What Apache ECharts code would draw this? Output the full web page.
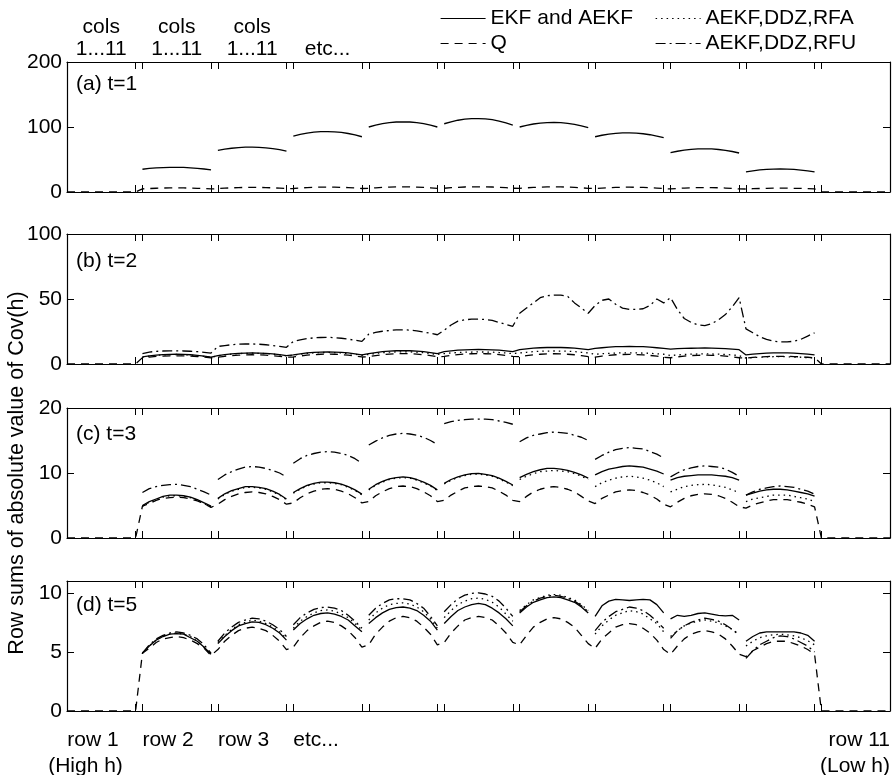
<!DOCTYPE html>
<html><head><meta charset="utf-8">
<script src="https://cdn.jsdelivr.net/npm/echarts@6/dist/echarts.min.js"></script>
<style>html,body{margin:0;padding:0;background:#fff}#c{width:896px;height:775px}</style>
</head><body><div id="c"></div>
<script>
// ---- axis ticks / labels ----
const xTicks = [11,12,22,23,33,34,44,45,55,56,66,67,77,78,88,89,99,100,110,111];
const topLabelPos = [6,17,28,39];
const topLabels = ['cols\n1...11','cols\n1...11','cols\n1...11','etc...'];
const bottomLabelPos = [3.7,12,23,34,121];
const bottomLabels = ['{s|row 1}\n(High h)','row 2','row 3','etc...','row 11\n(Low h)'];
const panelTitles = ['(a) t=1','(b) t=2','(c) t=3','(d) t=5'];
const yMax = [200,100,20,11];
const yTicks = [[0,100,200],[0,50,100],[0,10,20],[0,5,10]];
const yTitle = 'Row sums of absolute value of Cov(h)';
const names = ['EKF and AEKF','Q','AEKF,DDZ,RFA','AEKF,DDZ,RFU'];

// ---- data: each inner array = one row of the grid (cols 1..11) ----
// Q : rows 1..11
const qRows = [
 [0,0,0,0,0,0,0,0,0,0,0],
 [4.9,5.3,5.8,6.1,6.2,6.3,6.2,6.0,5.7,5.3,4.7],
 [5.2,5.9,6.4,6.8,7.0,7.1,7.0,6.8,6.4,5.9,5.2],
 [5.4,6.2,6.8,7.2,7.5,7.6,7.5,7.2,6.8,6.2,5.4],
 [5.6,6.5,7.1,7.6,7.9,8.0,7.9,7.6,7.1,6.5,5.6],
 [5.8,6.6,7.2,7.7,7.9,8.0,7.9,7.7,7.2,6.6,5.8],
 [5.6,6.4,7.1,7.5,7.8,7.9,7.8,7.5,7.1,6.4,5.7],
 [5.3,6.1,6.6,7.1,7.3,7.4,7.3,7.0,6.6,6.0,5.2],
 [4.8,5.5,6.1,6.5,6.7,6.8,6.7,6.5,6.1,5.5,4.8],
 [4.6,5.1,5.4,5.7,5.9,5.9,5.9,5.7,5.5,5.2,4.8],
 [0,0,0,0,0,0,0,0,0,0,0]
];
// other filters : rows 2..10
const ekfA = [
 [35,36.2,37.0,37.6,38.0,38.0,37.8,37.2,36.4,35.4,34],
 [64,65.9,67.3,68.3,68.9,69.0,68.7,67.9,66.7,65.1,63],
 [86,88.6,90.6,92.0,92.8,93,92.6,91.6,90.0,87.8,85],
 [100,102.9,105.1,106.7,107.7,108,107.7,106.7,105.1,102.9,100],
 [105,108.0,110.4,112.0,112.8,113,112.4,111.2,109.2,106.4,103],
 [100,102.6,104.6,106.0,106.8,107,106.6,105.6,104.0,101.8,99],
 [85,87.3,89.0,90.2,90.9,91,90.6,89.6,88.1,86.1,83.5],
 [60.5,62.7,64.4,65.6,66.3,66.5,66.2,65.4,64.1,62.3,60],
 [31,32.6,33.9,34.8,35.3,35.4,35.2,34.7,33.8,32.5,30.8]
];
const ekfB = [
 [5.5,6.2,6.8,7.2,7.4,7.5,7.4,7.1,6.6,6.0,5.3],
 [6.5,7.2,7.8,8.2,8.4,8.5,8.4,8.2,7.8,7.2,6.5],
 [7.0,7.8,8.5,8.9,9.2,9.3,9.2,8.9,8.5,7.8,7.0],
 [8.0,8.8,9.5,9.9,10.2,10.3,10.2,9.9,9.5,8.8,8.0],
 [9.5,10.1,10.6,10.9,11.1,11.2,11.1,10.9,10.6,10.1,9.5],
 [11.0,11.7,12.2,12.5,12.7,12.8,12.7,12.5,12.2,11.7,11.0],
 [12.0,12.5,13.0,13.3,13.4,13.5,13.4,13.3,13.0,12.5,12.0],
 [11.5,11.8,12.0,12.1,12.2,12.3,12.2,12.0,11.8,11.4,11.0],
 [7.0,7.6,8.0,8.3,8.5,8.6,8.5,8.3,8.0,7.6,7.0]
];
const rfaB = [
 [5.3,6.0,6.6,7.0,7.2,7.3,7.2,6.9,6.4,5.8,5.1],
 [6.3,7.0,7.6,8.0,8.2,8.3,8.2,8.0,7.6,7.0,6.3],
 [6.7,7.5,8.1,8.5,8.8,8.9,8.8,8.5,8.1,7.5,6.7],
 [7.3,8.1,8.7,9.1,9.3,9.4,9.3,9.1,8.7,8.1,7.3],
 [8.0,8.5,8.8,9.1,9.2,9.3,9.2,9.1,8.8,8.5,8.0],
 [8.5,9.0,9.5,9.8,9.9,10.0,9.9,9.8,9.5,9.0,8.5],
 [7.5,7.9,8.2,8.4,8.6,8.6,8.6,8.4,8.2,7.9,7.5],
 [6.5,7.0,7.3,7.6,7.7,7.8,7.7,7.6,7.3,7.0,6.5],
 [4.5,4.9,5.2,5.4,5.6,5.6,5.6,5.4,5.2,4.9,4.5]
];
const rfuB = [
 [8.0,9.2,9.7,10.0,10.1,10.1,10.0,9.8,9.5,9.0,8.4],
 [13.5,14.2,14.8,15.2,15.4,15.4,15.2,14.8,14.2,13.6,12.8],
 [17.4,18.6,19.5,20.1,20.4,20.5,20.3,19.8,19.1,18.3,17.4],
 [23.0,24.3,25.2,25.8,26.2,26.3,26.1,25.5,24.6,23.6,22.5],
 [26.0,30.0,33.0,34.0,34.5,34.5,34.3,33.5,32.0,30.5,29.0],
 [39,43,47,51,52.5,53,53,52,47,43,39],
 [45,49,50,46,43,42,42,42.5,45,50,47],
 [51,42,35,32,30,29.5,31,34,38,44,51],
 [27,24,21,19,17.5,17,17,17.5,19,21.5,24]
];
const ekfC = [
 [5.0,5.6,6.0,6.4,6.6,6.6,6.5,6.3,5.9,5.4,4.9],
 [6.1,6.8,7.3,7.6,7.9,7.9,7.8,7.6,7.2,6.7,6.0],
 [7.0,7.6,8.1,8.4,8.6,8.6,8.5,8.3,7.9,7.4,6.75],
 [7.5,8.2,8.7,9.1,9.3,9.4,9.3,9.0,8.6,8.1,7.4],
 [8.4,9.0,9.4,9.7,9.9,9.95,9.8,9.6,9.2,8.7,8.15],
 [9.3,9.8,10.2,10.5,10.7,10.7,10.6,10.4,10.1,9.7,9.2],
 [9.7,10.2,10.6,10.8,11.0,11.1,11.0,10.9,10.6,10.3,9.85],
 [8.9,9.3,9.5,9.6,9.7,9.7,9.7,9.6,9.5,9.3,8.9],
 [6.6,6.9,7.2,7.4,7.5,7.5,7.4,7.2,7.0,6.8,6.45]
];
const rfaC = [
 [4.9,5.5,5.9,6.3,6.5,6.5,6.4,6.2,5.8,5.3,4.8],
 [6.0,6.7,7.2,7.5,7.8,7.8,7.7,7.5,7.1,6.6,5.9],
 [6.9,7.5,8.0,8.3,8.5,8.5,8.4,8.2,7.8,7.3,6.65],
 [7.4,8.1,8.6,9.0,9.2,9.3,9.2,8.9,8.5,8.0,7.3],
 [8.3,8.9,9.3,9.6,9.8,9.85,9.7,9.5,9.1,8.6,8.05],
 [9.0,9.5,9.9,10.2,10.3,10.4,10.3,10.2,9.9,9.5,9.0],
 [7.9,8.5,8.9,9.2,9.4,9.5,9.4,9.2,8.9,8.5,7.9],
 [7.1,7.5,7.9,8.1,8.2,8.25,8.2,8.0,7.8,7.4,7.0],
 [5.6,6.0,6.2,6.4,6.6,6.6,6.6,6.4,6.2,6.0,5.6]
];
const rfuC = [
 [7.0,7.6,7.9,8.1,8.2,8.25,8.1,7.9,7.5,7.1,6.6],
 [9.0,9.7,10.2,10.6,10.9,11.0,10.9,10.7,10.4,10.0,9.4],
 [11.5,12.2,12.7,13.0,13.2,13.3,13.2,13.0,12.7,12.2,11.5],
 [14.3,14.9,15.4,15.8,16.0,16.1,16.0,15.8,15.5,15.0,14.4],
 [17.6,17.9,18.1,18.2,18.3,18.3,18.3,18.2,18.0,17.8,17.5],
 [14.8,15.4,15.8,16.0,16.2,16.3,16.2,16.1,15.8,15.5,15.0],
 [12.1,12.7,13.2,13.6,13.8,13.9,13.8,13.7,13.3,12.9,12.3],
 [9.4,10.0,10.5,10.8,11.0,11.1,11.0,10.9,10.6,10.1,9.5],
 [6.6,7.1,7.5,7.7,7.9,8.0,7.9,7.8,7.5,7.2,6.75]
];
const ekfD = [
 [4.9,5.5,6.0,6.3,6.5,6.55,6.5,6.2,5.9,5.4,4.8],
 [5.7,6.3,6.8,7.2,7.4,7.55,7.5,7.3,7.0,6.6,6.0],
 [6.85,7.4,7.8,8.1,8.25,8.3,8.2,8.0,7.7,7.2,6.7],
 [7.4,7.9,8.3,8.6,8.75,8.8,8.7,8.5,8.1,7.6,6.85],
 [7.4,8.0,8.5,8.8,9.0,9.1,9.0,8.7,8.3,7.8,7.2],
 [8.3,8.8,9.2,9.4,9.6,9.65,9.6,9.4,9.2,8.8,8.3],
 [8.0,8.9,9.3,9.45,9.4,9.35,9.4,9.45,9.4,9.0,8.3],
 [7.8,8.1,8.0,8.1,8.25,8.3,8.2,8.1,8.05,8.1,7.7],
 [5.9,6.3,6.6,6.7,6.7,6.7,6.7,6.7,6.6,6.4,5.9]
];
const rfaD = [
 [4.9,5.5,6.0,6.35,6.5,6.6,6.5,6.3,5.9,5.4,4.8],
 [5.8,6.4,6.9,7.3,7.5,7.7,7.6,7.4,7.1,6.7,6.1],
 [7.0,7.6,8.0,8.3,8.5,8.55,8.45,8.2,7.9,7.4,6.85],
 [7.7,8.3,8.7,9.0,9.1,9.15,9.05,8.8,8.4,7.8,7.0],
 [7.9,8.5,9.0,9.3,9.5,9.55,9.45,9.2,8.8,8.2,7.6],
 [8.5,9.0,9.4,9.6,9.8,9.85,9.8,9.6,9.4,9.0,8.5],
 [6.5,7.2,7.7,8.1,8.3,8.5,8.4,8.2,7.8,7.4,6.7],
 [6.3,6.8,7.2,7.45,7.6,7.7,7.6,7.45,7.2,6.9,6.5],
 [5.5,5.9,6.2,6.35,6.45,6.5,6.45,6.35,6.2,5.95,5.6]
];
const rfuD = [
 [4.9,5.6,6.1,6.4,6.6,6.7,6.6,6.4,6.1,5.6,4.9],
 [5.9,6.6,7.1,7.5,7.7,7.85,7.8,7.6,7.3,6.9,6.3],
 [7.3,7.9,8.3,8.6,8.75,8.8,8.7,8.5,8.1,7.6,7.0],
 [8.1,8.7,9.1,9.4,9.5,9.5,9.4,9.1,8.7,8.0,7.2],
 [8.4,9.0,9.5,9.8,9.95,10.0,9.9,9.7,9.3,8.7,8.0],
 [8.4,8.9,9.3,9.55,9.7,9.8,9.7,9.55,9.3,8.9,8.4],
 [6.8,7.5,8.0,8.4,8.6,8.8,8.7,8.5,8.1,7.6,7.0],
 [6.15,6.8,7.2,7.5,7.7,7.85,7.75,7.6,7.3,6.9,6.4],
 [4.45,5.1,5.6,5.9,6.2,6.35,6.3,6.1,5.8,5.5,5.0]
];

// series per panel: [name, rows, first row number]
const panels = [
 {gap:true,  sets:[['Q',qRows,1],['EKF and AEKF',ekfA,2]]},
 {gap:false, sets:[['Q',qRows,1],['AEKF,DDZ,RFA',rfaB,2],['AEKF,DDZ,RFU',rfuB,2],['EKF and AEKF',ekfB,2]]},
 {gap:true,  sets:[['Q',qRows,1],['AEKF,DDZ,RFA',rfaC,2],['AEKF,DDZ,RFU',rfuC,2],['EKF and AEKF',ekfC,2]]},
 {gap:true,  sets:[['Q',qRows,1],['AEKF,DDZ,RFA',rfaD,2],['AEKF,DDZ,RFU',rfuD,2],['EKF and AEKF',ekfD,2]]}
];

// ---- layout / style ----
const FONT = 'Liberation Sans, Arial, Helvetica, sans-serif';
const gridTops = [62, 234, 408, 581];
const GH = 130;
const dash = {
 'EKF and AEKF':'solid',
 'Q':[8,6],
 'AEKF,DDZ,RFA':[1.5,4],
 'AEKF,DDZ,RFU':[10,4,2,4]
};

function toPoints(rows, firstRow, gap, isQ) {
  const out = [];
  rows.forEach((row, i) => {
    const start = (firstRow - 1 + i) * 11;
    row.forEach((v, j) => out.push([start + j + 1, v]));
    if (gap && !isQ && i < rows.length - 1) out.push([start + 11.5, '-']);
  });
  return out;
}

const grid = [], xAxis = [], yAxis = [], series = [], graphic = [];
const lineCol = {color:'#000', width:1.2};
panels.forEach((p, gi) => {
  grid.push({left:67, right:6, top:gridTops[gi], height:GH, containLabel:false, outerBoundsMode:'none'});
  const tick = {show:true, inside:true, length:7, customValues:xTicks, lineStyle:{color:'#000', width:1}};
  // bottom x axis
  xAxis.push({
    type:'value', gridIndex:gi, position:'bottom', min:1, max:121,
    axisLine:{show:true, onZero:false, lineStyle:lineCol}, splitLine:{show:false}, axisTick:tick,
    axisLabel: gi === 3 ? {
      show:true, customValues:bottomLabelPos,
      formatter:v => bottomLabels[bottomLabelPos.indexOf(v)],
      fontSize:21, lineHeight:26, margin:16, color:'#000', fontFamily:FONT,
      align:'left', alignMinLabel:'center', alignMaxLabel:'right',
      rich:{s:{fontSize:21, lineHeight:26, color:'#000', fontFamily:FONT, padding:[0,0,0,15]}}
    } : {show:false}
  });
  // top x axis
  xAxis.push({
    type:'value', gridIndex:gi, position:'top', min:1, max:121,
    axisLine:{show:true, onZero:false, lineStyle:lineCol}, splitLine:{show:false}, axisTick:tick,
    axisLabel: gi === 0 ? {
      show:true, customValues:topLabelPos,
      formatter:v => topLabels[topLabelPos.indexOf(v)],
      fontSize:21, lineHeight:22, margin:2, color:'#000', fontFamily:FONT, align:'center'
    } : {show:false}
  });
  const ytick = {show:true, inside:true, length:7, customValues:yTicks[gi], lineStyle:{color:'#000', width:1}};
  const left = {
    type:'value', gridIndex:gi, position:'left', min:0, max:yMax[gi],
    axisLine:{show:true, onZero:false, lineStyle:lineCol}, splitLine:{show:false}, axisTick:ytick,
    axisLabel:{show:true, customValues:yTicks[gi], fontSize:21, color:'#000', margin:5, fontFamily:FONT}
  };
  if (gi === 2) {
    Object.assign(left, {name:yTitle, nameLocation:'middle', nameGap:34, nameRotate:90,
      nameTextStyle:{fontSize:21.5, color:'#000', fontFamily:FONT}});
  }
  yAxis.push(left);
  yAxis.push({
    type:'value', gridIndex:gi, position:'right', min:0, max:yMax[gi],
    axisLine:{show:true, onZero:false, lineStyle:lineCol}, splitLine:{show:false}, axisTick:ytick,
    axisLabel:{show:false}
  });
  p.sets.forEach(([name, rows, firstRow]) => {
    series.push({
      type:'line', name, xAxisIndex:gi*2, yAxisIndex:gi*2, symbol:'none', showSymbol:false, silent:true,
      connectNulls:false, animation:false,
      data: toPoints(rows, firstRow, p.gap, name === 'Q'),
      lineStyle:{color:'#000', width:1.3, type:dash[name]},
      itemStyle:{color:'#000'}
    });
  });
  graphic.push({type:'text', left:76, top:gridTops[gi] + [12, 17, 16, 14][gi],
    style:{text:panelTitles[gi], fontSize:21, fontFamily:FONT, fill:'#000'}});
});

const legendCommon = {
  orient:'vertical', top:8, padding:0, itemWidth:45, itemHeight:21, itemGap:4,
  textStyle:{fontSize:21, color:'#000', fontFamily:FONT, lineHeight:21},
  itemStyle:{opacity:0, borderWidth:0},
  lineStyle:{opacity:1, width:1.2},
  selectedMode:false
};
const chart = echarts.init(document.getElementById('c'), null, {renderer:'canvas'});
chart.setOption({
  animation:false,
  backgroundColor:'#fff',
  color:['#000'],
  textStyle:{fontFamily:FONT, color:'#000'},
  legend:[
    Object.assign({}, legendCommon, {left:440, data:[names[0], names[1]]}),
    Object.assign({}, legendCommon, {left:655, data:[names[2], names[3]]})
  ],
  grid, xAxis, yAxis, series, graphic
});
</script></body></html>
